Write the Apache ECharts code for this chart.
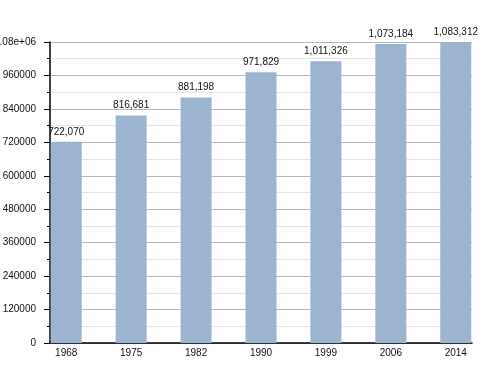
<!DOCTYPE html>
<html>
<head>
<meta charset="utf-8">
<script src="https://cdn.jsdelivr.net/npm/echarts@6/dist/echarts.min.js"></script>
<style>html,body{margin:0;padding:0;background:#fff}#c{width:500px;height:373px}</style>
</head>
<body>
<div id="c"></div>
<script>
const years = ['1968', '1975', '1982', '1990', '1999', '2006', '2014'];
const population = [722070, 816681, 881198, 971829, 1011326, 1073184, 1083312];
const yTicks = [0, 120000, 240000, 360000, 480000, 600000, 720000, 840000, 960000, 1080000];

const chart = echarts.init(document.getElementById('c'), null, {renderer: 'canvas'});
const fmtThousands = v => v.toString().replace(/\B(?=(\d{3})+(?!\d))/g, ',');
const fmtY = v => v >= 1e6 ? (v / 1e6).toFixed(2) + 'e+06' : String(v);
const FONT = 'Liberation Sans, Arial, sans-serif';

chart.setOption({
  animation: false,
  backgroundColor: '#ffffff',
  textStyle: {fontFamily: FONT},
  grid: {left: 50, right: 28, top: 42, bottom: 30, containLabel: false, outerBoundsMode: 'none'},
  xAxis: {
    type: 'value',
    min: -0.25,
    max: 6.25,
    axisLine: {show: true, onZero: false, lineStyle: {color: '#000', width: 1.5}},
    axisTick: {show: false},
    splitLine: {show: false},
    axisLabel: {
      customValues: years.map((y, i) => i),
      formatter: v => years[Math.round(v)],
      color: '#111', fontSize: 10, margin: 5, fontFamily: FONT
    }
  },
  yAxis: {
    type: 'value',
    min: 0,
    max: 1080000,
    interval: 120000,
    axisLine: {show: true, onZero: false, lineStyle: {color: '#000', width: 1.5}},
    axisTick: {show: true, length: 6, lineStyle: {color: '#000'}},
    minorTick: {show: true, splitNumber: 2, length: 3, lineStyle: {color: '#000'}},
    splitLine: {show: true, lineStyle: {color: '#b8b8b8', width: 1}},
    minorSplitLine: {show: true, lineStyle: {color: '#e4e4e4', width: 1}},
    axisLabel: {
      customValues: yTicks,
      formatter: fmtY,
      color: '#111', fontSize: 10, margin: 14, fontFamily: FONT
    }
  },
  series: [{
    type: 'bar',
    data: population.map((v, i) => [i, v]),
    barWidth: 31,
    itemStyle: {color: '#9cb4cf'},
    label: {
      show: true, position: 'top', distance: 5,
      formatter: p => fmtThousands(p.value[1]),
      color: '#111', fontSize: 10, fontFamily: FONT
    }
  }]
});
</script>
</body>
</html>
